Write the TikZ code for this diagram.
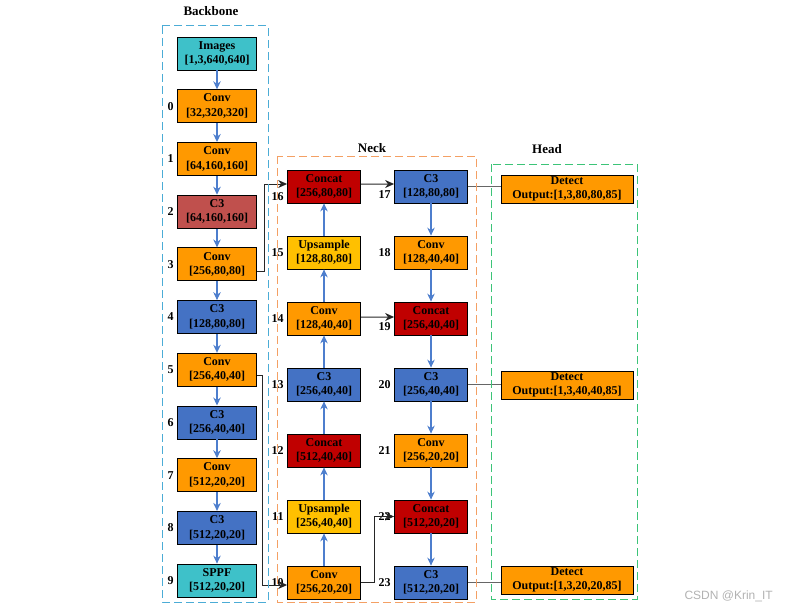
\documentclass[tikz,border=0pt]{standalone}
\usepackage{fontspec}
\setmainfont{Liberation Serif}
\newfontfamily\wmfont{Liberation Sans}
\usetikzlibrary{positioning,arrows.meta}

\definecolor{imgcyan}{RGB}{62,193,201}
\definecolor{convorange}{RGB}{255,153,0}
\definecolor{cblue}{RGB}{68,114,196}
\definecolor{cbrick}{RGB}{192,80,77}
\definecolor{catred}{RGB}{192,0,0}
\definecolor{upyellow}{RGB}{255,192,0}
\definecolor{flowblue}{RGB}{77,126,205}
\definecolor{bbframe}{RGB}{75,172,214}
\definecolor{neckframe}{RGB}{244,160,100}
\definecolor{headframe}{RGB}{60,196,120}

\begin{document}
\begin{tikzpicture}[
        x=1pt, y=-1pt,
        node distance=18.9pt,
        block/.style={
            draw,
            line width=0.8pt,
            minimum width=79pt,
            minimum height=33pt,
            inner sep=0pt,
            align=center,
            font=\fontsize{12}{14.5}\selectfont\bfseries
        },
        nblock/.style={block, minimum width=73pt},
        detect/.style={block, minimum width=132pt, minimum height=28pt, fill=convorange,
            font=\fontsize{12}{13.5}\selectfont\bfseries},
        num/.style={font=\fontsize{12}{13}\selectfont\bfseries},
        bbnum/.style={label distance=2.5pt},
        nnum/.style={label distance=1pt},
        flow/.style={
            -{Stealth[length=8pt,width=7.5pt]},
            line width=1.1pt,
            flowblue
        },
        link/.style={
            -{Stealth[length=9pt,width=8pt]},
            line width=1pt,
            black!85
        },
        outlink/.style={line width=1pt, black!60},
        frame/.style={dash pattern=on 8pt off 4pt, line width=1pt},
        title/.style={font=\fontsize{13}{15}\selectfont\bfseries}
    ]
        \useasboundingbox (0,0) rectangle (785,610);

        % --- 1. Backbone ---
        \node[block, fill=imgcyan] (img) at (217,53.5) {Images\\{}[1,3,640,640]};
        \node[block, fill=convorange, below=of img, bbnum, label={[num]left:0}] (conv0) {Conv\\{}[32,320,320]};
        \node[block, fill=convorange, below=of conv0, bbnum, label={[num]left:1}] (conv1) {Conv\\{}[64,160,160]};
        \node[block, fill=cbrick, below=of conv1, bbnum, label={[num]left:2}] (csp2) {C3\\{}[64,160,160]};
        \node[block, fill=convorange, below=of csp2, bbnum, label={[num]left:3}] (conv3) {Conv\\{}[256,80,80]};
        \node[block, fill=cblue, below=of conv3, bbnum, label={[num]left:4}] (csp4) {C3\\{}[128,80,80]};
        \node[block, fill=convorange, below=of csp4, bbnum, label={[num]left:5}] (conv5) {Conv\\{}[256,40,40]};
        \node[block, fill=cblue, below=of conv5, bbnum, label={[num]left:6}] (csp6) {C3\\{}[256,40,40]};
        \node[block, fill=convorange, below=of csp6, bbnum, label={[num]left:7}] (conv7) {Conv\\{}[512,20,20]};
        \node[block, fill=cblue, below=of conv7, bbnum, label={[num]left:8}] (csp8) {C3\\{}[512,20,20]};
        \node[block, fill=imgcyan, below=of csp8, bbnum, label={[num]left:9}] (sppf9) {SPPF\\{}[512,20,20]};

        \foreach \a/\b in {img/conv0, conv0/conv1, conv1/csp2, csp2/conv3, conv3/csp4,
                           csp4/conv5, conv5/csp6, csp6/conv7, conv7/csp8, csp8/sppf9}
            \draw[flow] (\a) -- (\b);

        % --- 2. Neck, colonne montante ---
        \node[nblock, fill=convorange, nnum, label={[num]left:10}] (conv10) at (324,582.5) {Conv\\{}[256,20,20]};
        \node[nblock, fill=upyellow, above=32.2pt of conv10, nnum, label={[num]left:11}] (up11) {Upsample\\{}[256,40,40]};
        \node[nblock, fill=catred, above=32.2pt of up11, nnum, label={[num]left:12}] (cat12) {Concat\\{}[512,40,40]};
        \node[nblock, fill=cblue, above=32.2pt of cat12, nnum, label={[num]left:13}] (csp13) {C3\\{}[256,40,40]};
        \node[nblock, fill=convorange, above=32.2pt of csp13, nnum, label={[num]left:14}] (conv14) {Conv\\{}[128,40,40]};
        \node[nblock, fill=upyellow, above=32.2pt of conv14, nnum, label={[num]left:15}] (up15) {Upsample\\{}[128,80,80]};
        \node[nblock, fill=catred, above=32.2pt of up15, nnum, label={[num, yshift=-10pt]left:16}] (cat16) {Concat\\{}[256,80,80]};

        % --- 3. Neck, colonne descendante ---
        \node[nblock, fill=cblue, nnum, label={[num, yshift=-8.5pt]left:17}] (csp17) at (431,186.5) {C3\\{}[128,80,80]};
        \node[nblock, fill=convorange, below=32.2pt of csp17, nnum, label={[num]left:18}] (conv18) {Conv\\{}[128,40,40]};
        \node[nblock, fill=catred, below=32.2pt of conv18, nnum, label={[num, yshift=-8.5pt]left:19}] (cat19) {Concat\\{}[256,40,40]};
        \node[nblock, fill=cblue, below=32.2pt of cat19, nnum, label={[num]left:20}] (csp20) {C3\\{}[256,40,40]};
        \node[nblock, fill=convorange, below=32.2pt of csp20, nnum, label={[num]left:21}] (conv21) {Conv\\{}[256,20,20]};
        \node[nblock, fill=catred, below=32.2pt of conv21, nnum, label={[num]left:22}] (cat22) {Concat\\{}[512,20,20]};
        \node[nblock, fill=cblue, below=32.2pt of cat22, nnum, label={[num]left:23}] (csp23) {C3\\{}[512,20,20]};

        \foreach \a/\b in {conv10/up11, up11/cat12, cat12/csp13, csp13/conv14, conv14/up15, up15/cat16,
                           csp17/conv18, conv18/cat19, cat19/csp20, csp20/conv21, conv21/cat22, cat22/csp23}
            \draw[flow] (\a) -- (\b);

        % --- 4. Head ---
        \node[detect] (det1) at (567,189) {Detect\\Output:[1,3,80,80,85]};
        \node[detect] (det2) at (567,385) {Detect\\Output:[1,3,40,40,85]};
        \node[detect] (det3) at (567,580) {Detect\\Output:[1,3,20,20,85]};

        % --- Liaisons ---
        \draw[link] ([yshift=-7.5pt]conv3.east) -- ++(8,0) |- ([yshift=2.5pt]cat16.west);
        \draw[link] ([yshift=-6pt]conv5.east) -- ++(6,0) |- ([yshift=-2.5pt]conv10.west);
        \draw[link] (conv10.east) -- ++(14,0) |- (cat22.west);
        \draw[link] ([yshift=2.5pt]cat16.east) -- ([yshift=2.5pt]csp17.west);
        \draw[link] ([yshift=1.5pt]conv14.east) -- ([yshift=1.5pt]cat19.west);
        \draw[outlink] (csp17.east) -- (csp17.east -| det1.west);
        \draw[outlink] (csp20.east) -- (csp20.east -| det2.west);
        \draw[outlink] (csp23.east) -- (csp23.east -| det3.west);

        % --- Cadres ---
        \draw[frame, bbframe] (162,26) rectangle (268,602);
        \draw[frame, neckframe] (277,156) rectangle (476,602);
        \draw[frame, headframe] (491,164) rectangle (637,599);
        \node[title] (tbb) at (211,11) {Backbone};
        \node[title] (tneck) at (372,148) {Neck};
        \node[title] (thead) at (547,149) {Head};

        \node[font=\wmfont\fontsize{12}{14}\selectfont, text=black!30, anchor=west] (wm) at (681,596) {CSDN @Krin\_IT};
    \end{tikzpicture}
\end{document}
